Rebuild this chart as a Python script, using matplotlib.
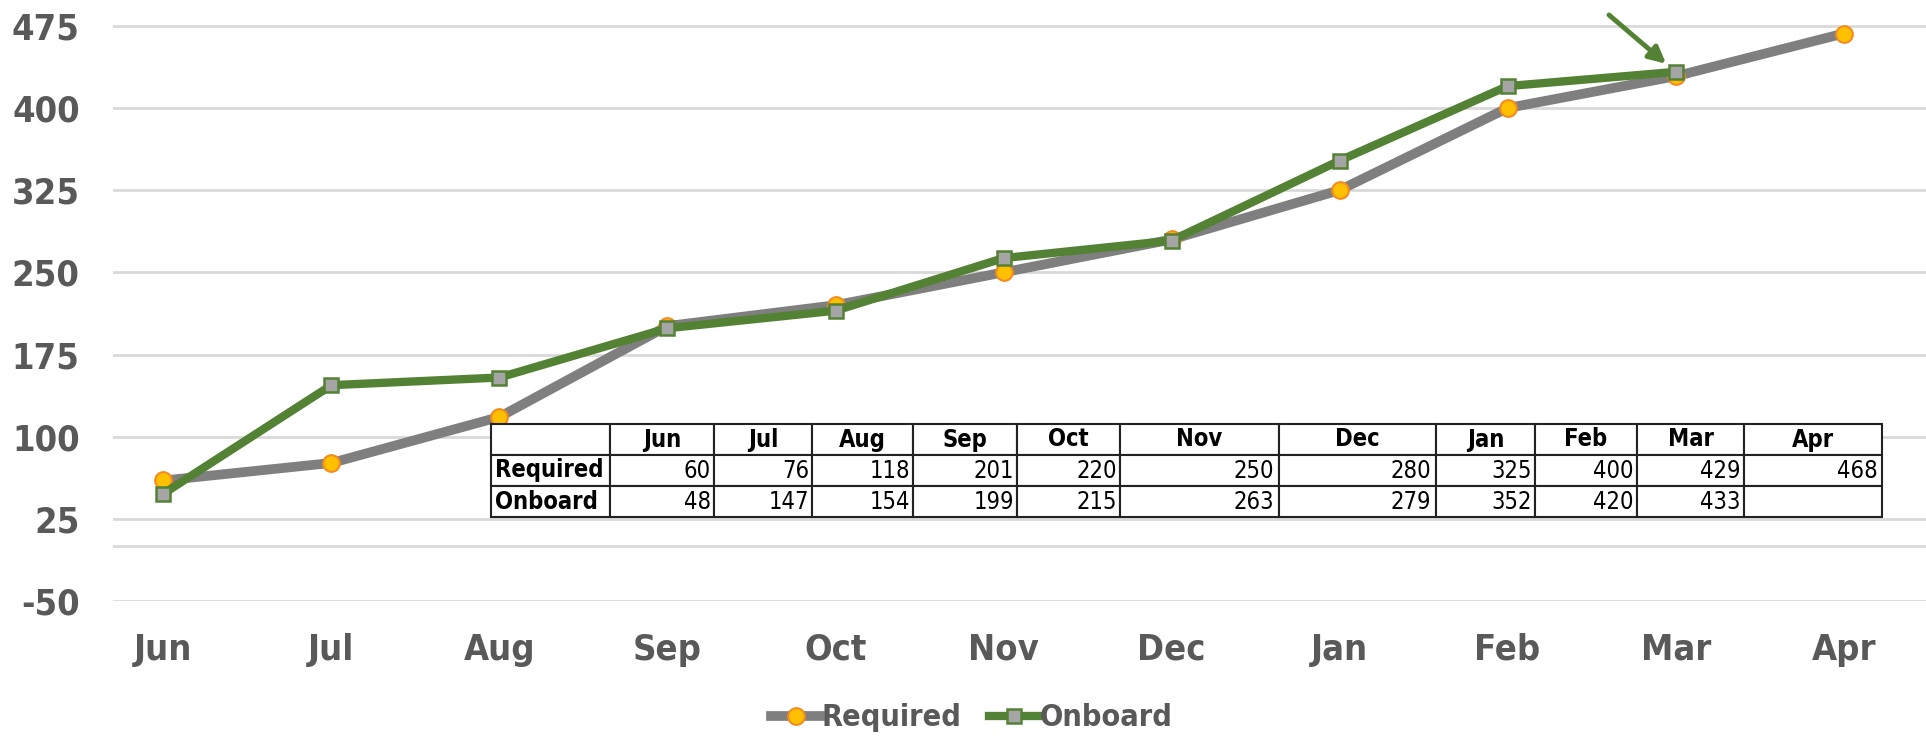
import numpy as np
import matplotlib
matplotlib.use("Agg")
import matplotlib.pyplot as plt
from matplotlib.lines import Line2D

months = ["Jun", "Jul", "Aug", "Sep", "Oct", "Nov", "Dec", "Jan", "Feb", "Mar", "Apr"]
required = [60, 76, 118, 201, 220, 250, 280, 325, 400, 429, 468]
onboard = [48, 147, 154, 199, 215, 263, 279, 352, 420, 433]
y_ticks = [-50, 25, 100, 175, 250, 325, 400, 475]

GRAY_TXT = "#595959"
GRID = "#d9d9d9"
REQ_LINE = "#7f7f7f"
REQ_FACE = "#ffc000"
REQ_EDGE = "#f58a1f"
ONB_LINE = "#548235"
ONB_FACE = "#a5a5a5"

plt.rcParams['font.family'] = ['DejaVu Sans']
plt.rcParams['font.stretch'] = 'condensed'
plt.rcParams['axes.unicode_minus'] = False

W, H = 1926, 745
fig = plt.figure(figsize=(W/100, H/100), dpi=100)
ax = fig.add_axes([113/W, 1 - 601/H, 1 - 113/W, 601/H])

x = np.arange(len(months))
ax.plot(x, required, color=REQ_LINE, lw=7, marker='o', ms=12, mfc=REQ_FACE,
        mec=REQ_EDGE, mew=1.5, zorder=3, solid_capstyle='butt', label='Required')
ax.plot(x[:len(onboard)], onboard, color=ONB_LINE, lw=6, marker='s', ms=10,
        mfc=ONB_FACE, mec=ONB_LINE, mew=1.8, zorder=4, label='Onboard')

ax.set_xlim(-0.3, 10.49)
ax.set_ylim(-50, 498.6)
ax.set_yticks(y_ticks)
ax.set_xticks(x)
ax.set_xticklabels(months)
for t in y_ticks:
    ax.axhline(t, color=GRID, lw=2, zorder=1)
ax.axhline(0, color=GRID, lw=2, zorder=1)
for s in ax.spines.values():
    s.set_visible(False)
ax.tick_params(length=0, labelsize=26, labelcolor=GRAY_TXT)
ax.tick_params(axis='x', pad=23)
ax.tick_params(axis='y', pad=24)
for lab in ax.get_xticklabels() + ax.get_yticklabels():
    lab.set_fontweight('bold')

# data table
col_w = [119, 104, 98, 101, 104, 103, 159, 157, 99, 102, 107, 138]
tot = sum(col_w)
cells = [[""] + months,
         ["Required"] + [str(v) for v in required],
         ["Onboard"] + [str(v) for v in onboard] + [""] * (len(months) - len(onboard))]
x0 = (491 - 113) / (W - 113)
x1 = (1882 - 113) / (W - 113)
y0 = (601 - 517) / 601
y1 = (601 - 424) / 601
tbl = ax.table(cellText=cells, colWidths=[c / tot for c in col_w],
               bbox=[x0, y0, x1 - x0, y1 - y0], cellLoc='right', zorder=6)
tbl.auto_set_font_size(False)
for (r, c), cell in tbl.get_celld().items():
    cell.set_edgecolor("#222222")
    cell.set_linewidth(1.5)
    cell.set_facecolor("white")
    cell.PAD = 0.03
    txt = cell.get_text()
    txt.set_fontsize(17)
    txt.set_color("black")
    if r == 0:
        cell._loc = 'center'
        txt.set_ha('center')
        txt.set_fontweight('bold')
    elif c == 0:
        cell._loc = 'left'
        txt.set_ha('left')
        txt.set_fontweight('bold')

# arrow pointing at March onboard
ax.annotate("", xy=(9, 433), xytext=(-48, 41), textcoords='offset points',
            arrowprops=dict(arrowstyle='-|>,head_length=1.0,head_width=0.5',
                            color=ONB_LINE, lw=3.5, shrinkA=0, shrinkB=9),
            annotation_clip=False, zorder=7)

handles = [
    Line2D([], [], color=REQ_LINE, lw=7, marker='o', ms=12, mfc=REQ_FACE, mec=REQ_EDGE, mew=1.5),
    Line2D([], [], color=ONB_LINE, lw=6, marker='s', ms=10, mfc=ONB_FACE, mec=ONB_LINE, mew=1.8),
]
leg = fig.legend(handles, ["Required", "Onboard"], loc='center', ncol=2,
                 bbox_to_anchor=(972 / W, 1 - 718 / H), frameon=False,
                 handlelength=1.6, handletextpad=0.05, columnspacing=0.9,
                 prop={'size': 22, 'weight': 'bold'})
for t in leg.get_texts():
    t.set_color(GRAY_TXT)

fig.savefig("out.png", dpi=100)
